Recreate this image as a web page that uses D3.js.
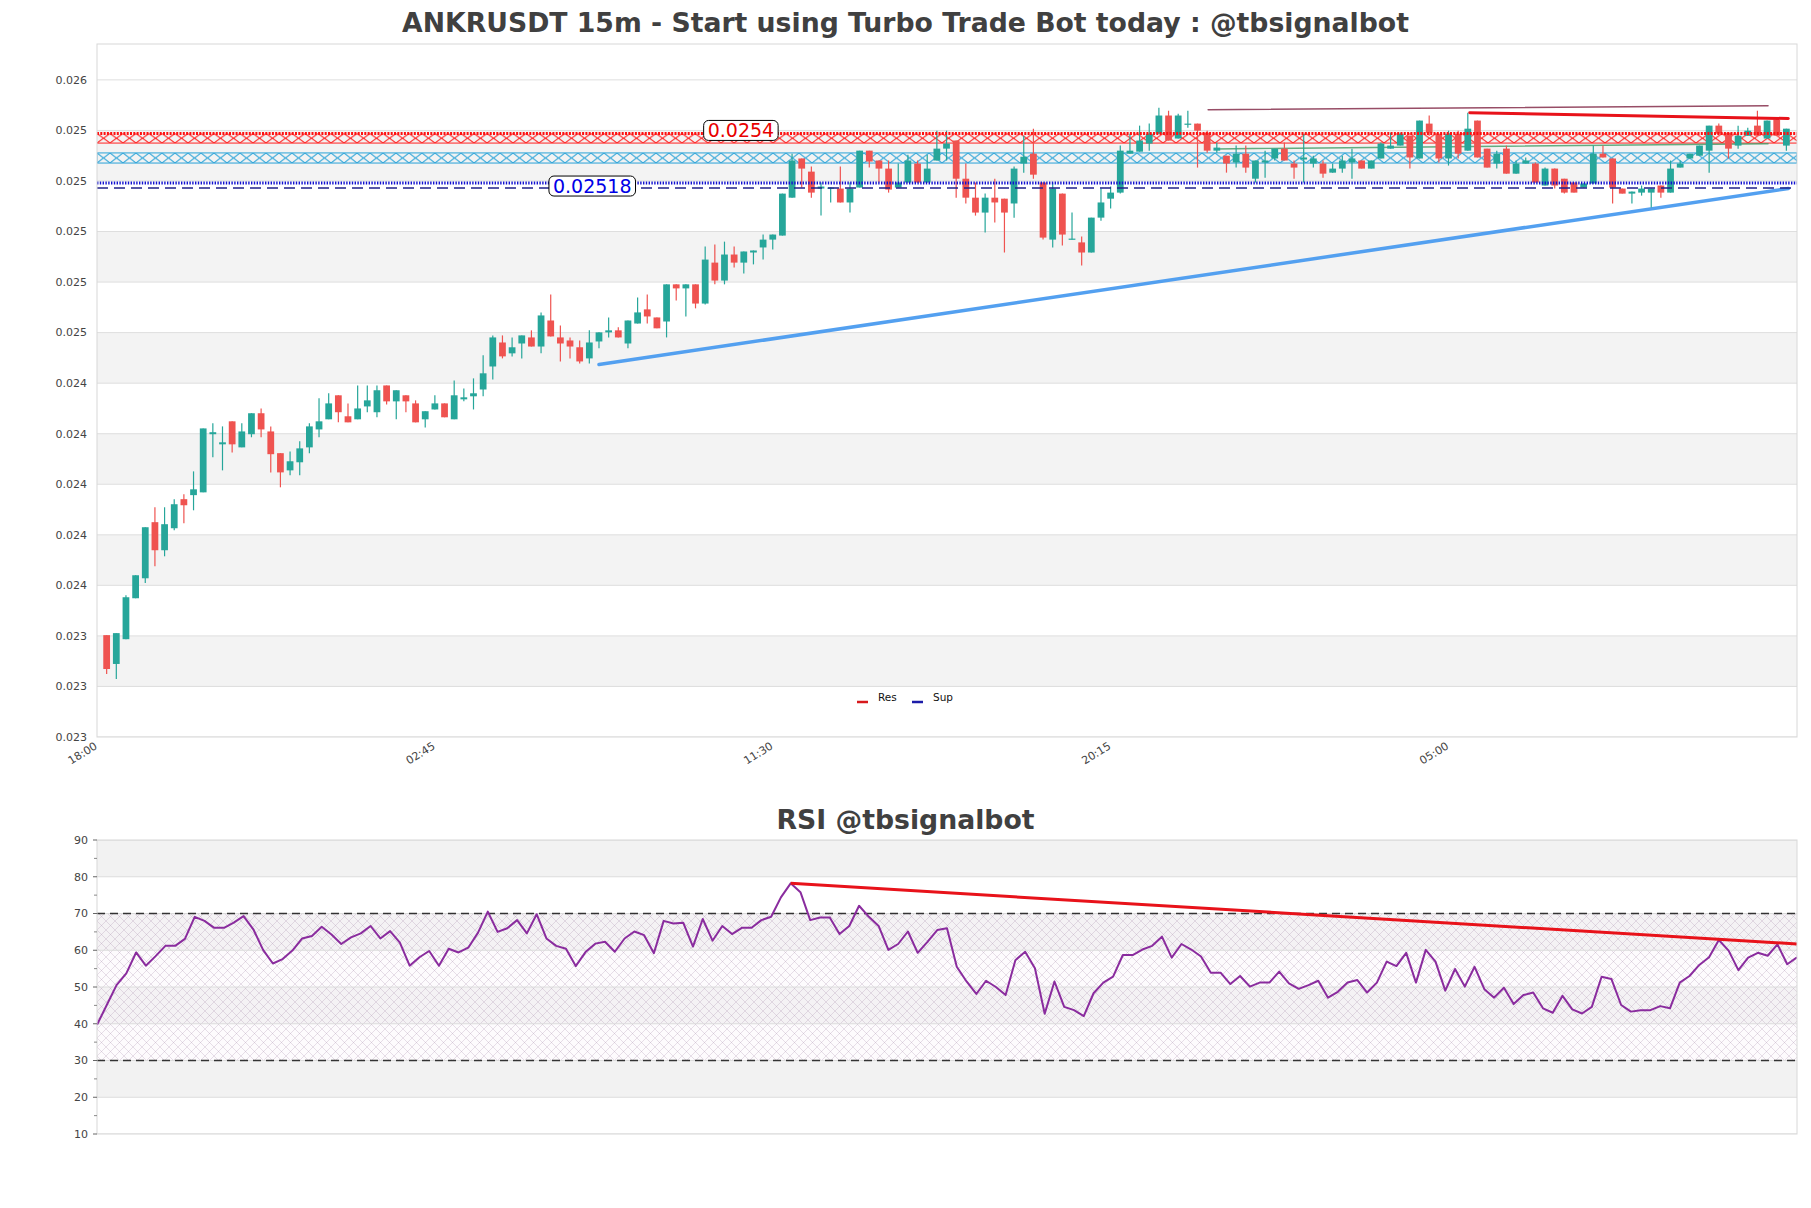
<!DOCTYPE html>
<html>
<head>
<meta charset="utf-8">
<style>
body { margin: 0; background: #fff; }
text { font-family: "DejaVu Sans", sans-serif; }
.axis-label { font-size: 11px; fill: #444; }
.chart-title { font-size: 26.7px; font-weight: bold; fill: #404040; }
.legend text { font-size: 10.5px; fill: #111; }
</style>
</head>
<body>
<svg width="1811" height="1208"></svg>
<script src="https://d3js.org/d3.v7.min.js"></script>
<script>

// ---- data ----
// 15m candles, first candle is 18:15
var candleOpen = [
0.023403,0.023289,0.023387,0.023549,0.023628,0.023850,0.023739,0.023826,0.023941,0.023957,
0.023968,0.024198,0.024158,0.024249,0.024146,0.024198,0.024281,0.024209,0.024123,0.024055,
0.024087,0.024146,0.024217,0.024257,0.024352,0.024269,0.024257,0.024308,0.024285,0.024391,
0.024328,0.024352,0.024320,0.024257,0.024296,0.024320,0.024257,0.024336,0.024348,0.024375,
0.024466,0.024561,0.024518,0.024557,0.024581,0.024545,0.024648,0.024581,0.024569,0.024542,
0.024498,0.024565,0.024601,0.024609,0.024557,0.024636,0.024692,0.024660,0.024644,0.024791,
0.024775,0.024791,0.024715,0.024877,0.024806,0.024909,0.024877,0.024917,0.024937,0.024968,
0.024984,0.025134,0.025289,0.025237,0.025170,0.025170,0.025170,0.025115,0.025174,0.025320,
0.025281,0.025249,0.025174,0.025194,0.025269,0.025194,0.025281,0.025328,0.025360,0.025209,
0.025134,0.025075,0.025134,0.025130,0.025111,0.025269,0.025308,0.025194,0.024968,0.025150,
0.024968,0.024957,0.024917,0.025055,0.025130,0.025154,0.025308,0.025316,0.025348,0.025387,
0.025459,0.025368,0.025423,0.025427,0.025391,0.025320,0.025300,0.025273,0.025308,0.025209,
0.025273,0.025289,0.025328,0.025269,0.025285,0.025269,0.025269,0.025233,0.025249,0.025273,
0.025281,0.025249,0.025289,0.025328,0.025340,0.025379,0.025289,0.025427,0.025387,0.025289,
0.025387,0.025320,0.025439,0.025328,0.025269,0.025328,0.025229,0.025269,0.025269,0.025182,
0.025249,0.025209,0.025194,0.025174,0.025190,0.025308,0.025289,0.025170,0.025150,0.025154,
0.025154,0.025182,0.025154,0.025253,0.025289,0.025300,0.025320,0.025419,0.025391,0.025340,
0.025379,0.025419,0.025368,0.025443,0.025340];

var candleHigh = [
0.023403,0.023411,0.023561,0.023640,0.023830,0.023909,0.023909,0.023941,0.023960,0.024051,
0.024221,0.024241,0.024229,0.024249,0.024241,0.024281,0.024300,0.024229,0.024123,0.024130,
0.024170,0.024241,0.024340,0.024360,0.024352,0.024320,0.024391,0.024391,0.024391,0.024391,
0.024372,0.024352,0.024332,0.024289,0.024352,0.024320,0.024411,0.024379,0.024419,0.024510,
0.024589,0.024589,0.024581,0.024589,0.024609,0.024680,0.024751,0.024628,0.024581,0.024569,
0.024609,0.024601,0.024660,0.024621,0.024648,0.024739,0.024751,0.024660,0.024791,0.024791,
0.024791,0.024791,0.024941,0.024949,0.024960,0.024941,0.024921,0.024925,0.024988,0.024988,
0.025150,0.025308,0.025289,0.025257,0.025194,0.025174,0.025257,0.025194,0.025320,0.025320,
0.025281,0.025281,0.025269,0.025304,0.025281,0.025304,0.025399,0.025399,0.025360,0.025269,
0.025194,0.025150,0.025209,0.025130,0.025257,0.025379,0.025407,0.025194,0.025194,0.025150,
0.025075,0.024980,0.025055,0.025170,0.025178,0.025340,0.025387,0.025419,0.025427,0.025490,
0.025478,0.025466,0.025478,0.025427,0.025399,0.025352,0.025300,0.025340,0.025340,0.025281,
0.025320,0.025328,0.025352,0.025281,0.025387,0.025300,0.025281,0.025269,0.025300,0.025328,
0.025281,0.025281,0.025352,0.025391,0.025391,0.025379,0.025439,0.025459,0.025387,0.025399,
0.025399,0.025470,0.025439,0.025328,0.025320,0.025340,0.025281,0.025293,0.025273,0.025253,
0.025249,0.025209,0.025194,0.025190,0.025340,0.025340,0.025289,0.025170,0.025158,0.025182,
0.025170,0.025182,0.025281,0.025281,0.025308,0.025340,0.025419,0.025427,0.025391,0.025419,
0.025411,0.025478,0.025439,0.025451,0.025407];

var candleLow = [
0.023249,0.023229,0.023387,0.023549,0.023609,0.023676,0.023715,0.023818,0.023846,0.023897,
0.023968,0.024107,0.024055,0.024126,0.024146,0.024186,0.024186,0.024047,0.023988,0.024036,
0.024036,0.024123,0.024186,0.024257,0.024245,0.024245,0.024257,0.024285,0.024265,0.024316,
0.024257,0.024285,0.024245,0.024225,0.024296,0.024265,0.024257,0.024328,0.024296,0.024348,
0.024415,0.024498,0.024506,0.024498,0.024545,0.024518,0.024585,0.024486,0.024498,0.024478,
0.024478,0.024538,0.024581,0.024581,0.024538,0.024636,0.024636,0.024617,0.024581,0.024727,
0.024664,0.024696,0.024711,0.024791,0.024791,0.024858,0.024834,0.024870,0.024889,0.024929,
0.024984,0.025134,0.025174,0.025134,0.025063,0.025115,0.025115,0.025075,0.025174,0.025253,
0.025194,0.025154,0.025174,0.025194,0.025194,0.025194,0.025281,0.025281,0.025134,0.025111,
0.025063,0.024996,0.025036,0.024917,0.025055,0.025233,0.025209,0.024968,0.024937,0.024945,
0.024968,0.024866,0.024917,0.025043,0.025091,0.025150,0.025308,0.025316,0.025320,0.025387,
0.025360,0.025368,0.025411,0.025253,0.025312,0.025312,0.025233,0.025253,0.025233,0.025194,
0.025213,0.025281,0.025281,0.025209,0.025194,0.025253,0.025213,0.025233,0.025233,0.025209,
0.025249,0.025249,0.025289,0.025328,0.025340,0.025249,0.025289,0.025379,0.025273,0.025261,
0.025289,0.025320,0.025293,0.025253,0.025249,0.025229,0.025229,0.025269,0.025194,0.025182,
0.025170,0.025150,0.025154,0.025174,0.025190,0.025293,0.025111,0.025150,0.025111,0.025142,
0.025095,0.025134,0.025154,0.025253,0.025289,0.025300,0.025233,0.025387,0.025289,0.025328,
0.025379,0.025379,0.025368,0.025379,0.025320];

var candleClose = [
0.023269,0.023411,0.023553,0.023640,0.023830,0.023739,0.023842,0.023921,0.023917,0.023980,
0.024221,0.024206,0.024166,0.024158,0.024209,0.024281,0.024217,0.024119,0.024047,0.024091,
0.024142,0.024229,0.024249,0.024320,0.024285,0.024245,0.024300,0.024332,0.024372,0.024328,
0.024372,0.024328,0.024245,0.024289,0.024320,0.024265,0.024352,0.024344,0.024360,0.024439,
0.024581,0.024506,0.024542,0.024589,0.024545,0.024668,0.024585,0.024557,0.024545,0.024486,
0.024561,0.024601,0.024609,0.024581,0.024648,0.024680,0.024664,0.024617,0.024791,0.024775,
0.024791,0.024715,0.024889,0.024806,0.024909,0.024877,0.024921,0.024925,0.024968,0.024988,
0.025150,0.025281,0.025249,0.025154,0.025178,0.025174,0.025115,0.025170,0.025320,0.025277,
0.025249,0.025166,0.025194,0.025281,0.025194,0.025249,0.025328,0.025348,0.025209,0.025134,
0.025075,0.025134,0.025115,0.025075,0.025249,0.025296,0.025225,0.024976,0.025170,0.024988,
0.024972,0.024917,0.025055,0.025115,0.025154,0.025320,0.025320,0.025360,0.025387,0.025459,
0.025360,0.025459,0.025427,0.025399,0.025320,0.025332,0.025269,0.025308,0.025253,0.025281,
0.025281,0.025328,0.025281,0.025253,0.025293,0.025289,0.025229,0.025249,0.025281,0.025289,
0.025249,0.025281,0.025348,0.025340,0.025387,0.025293,0.025439,0.025391,0.025289,0.025387,
0.025308,0.025407,0.025293,0.025253,0.025308,0.025229,0.025269,0.025281,0.025194,0.025249,
0.025182,0.025154,0.025154,0.025190,0.025308,0.025293,0.025174,0.025150,0.025158,0.025170,
0.025170,0.025154,0.025249,0.025269,0.025308,0.025340,0.025419,0.025387,0.025328,0.025379,
0.025399,0.025379,0.025439,0.025379,0.025407];

var rsiValues = [
39.7,45.1,50.5,53.7,59.4,55.8,58.4,61.2,61.2,63.1,
69.1,68.0,66.1,66.1,67.5,69.3,65.7,60.1,56.4,57.6,
59.9,63.2,63.9,66.4,64.3,61.7,63.5,64.6,66.6,63.2,
65.2,62.1,55.8,58.1,59.8,55.8,60.4,59.4,60.7,64.8,
70.5,65.0,66.0,68.2,64.6,69.8,63.2,61.2,60.4,55.7,
59.5,61.8,62.3,59.6,63.2,65.1,64.1,59.2,68.0,67.3,
67.5,61.0,68.5,62.6,66.6,64.4,66.1,66.1,68.2,69.1,
74.4,78.2,75.8,68.2,68.9,68.9,64.4,66.6,72.1,69.1,
66.6,60.1,61.7,65.1,59.3,62.3,65.5,66.0,55.5,51.5,
48.1,51.7,50.0,47.8,57.3,59.6,55.1,42.7,51.5,44.6,
43.7,42.1,48.3,51.2,52.8,58.7,58.7,60.2,61.2,63.7,
58.0,61.7,60.2,58.3,53.9,53.9,50.8,53.0,50.1,51.2,
51.2,54.2,51.0,49.5,50.5,51.7,47.1,48.7,51.2,51.9,
48.5,51.2,56.9,55.7,59.3,51.2,60.1,56.9,49.0,54.9,
50.1,55.5,49.4,47.1,49.8,45.4,47.8,48.5,44.2,43.0,
47.6,43.9,42.8,44.6,52.8,52.2,45.1,43.3,43.7,43.7,
44.8,44.2,51.2,53.0,56.0,58.1,62.8,59.9,54.6,58.0,
59.3,58.5,61.6,56.2,58.1];

var xTickIndex = [0, 35, 70, 105, 140];
var xTickLabels = ["18:00", "02:45", "11:30", "20:15", "05:00"];
var yTicks = [0.0230, 0.0232, 0.0234, 0.0236, 0.0238, 0.0240, 0.0242, 0.0244,
              0.0246, 0.0248, 0.0250, 0.0252, 0.0254, 0.0256];
var rsiTicks = [10, 20, 30, 40, 50, 60, 70, 80, 90];

// levels and zones
var resZone = [0.025350, 0.025388];
var resLevel = 0.025388, resLabel = 0.0254, resLabelAt = 66.7;
var midZone = [0.025271, 0.025311];
var supDotted = 0.025192, supDashed = 0.025172, supLabel = 0.02518, supLabelAt = 51.3;

// trend lines [candle index, price]
var supportTrend = [[52, 0.024474], [175.2, 0.025170]];
var resistTrend = [[142.2, 0.025470], [175.2, 0.025447]];
var upperThin = [[115.1, 0.025482], [173.1, 0.025498]];
var greenThin = [[115.8, 0.025327], [173.1, 0.025347]];
var rsiTrend = [[71, 78.2], [174, 61.7]];

// ---- layout ----
var svg = d3.select("svg"),
  main = {left: 97, right: 1797, top: 44, bottom: 737},
  rsiBox = {left: 97, right: 1797, top: 840, bottom: 1134};

var upColor = "#26a69a", downColor = "#ef5350";

var x = d3.scaleLinear().domain([0, 176.1]).range([main.left, main.right]);
var y = d3.scaleLinear().domain([0.0230, 0.025742]).range([main.bottom, main.top]);
var xr = d3.scaleLinear().domain([0, rsiValues.length - 1]).range([rsiBox.left, rsiBox.right]);
var yr = d3.scaleLinear().domain([10, 90]).range([rsiBox.bottom, rsiBox.top]);

svg.append("rect").attr("width", 1811).attr("height", 1208).attr("fill", "#fff");

var defs = svg.append("defs");
function hatch(id, color, w, h, y0, sw, op) {
  var p = defs.append("pattern")
    .attr("id", id)
    .attr("patternUnits", "userSpaceOnUse")
    .attr("x", main.left).attr("y", y0)
    .attr("width", w).attr("height", h);
  p.append("path")
    .attr("d", "M0,0L" + w + "," + h + "M" + w + ",0L0," + h)
    .attr("stroke", color)
    .attr("stroke-width", sw)
    .attr("stroke-opacity", op)
    .attr("fill", "none");
}
hatch("hatchRed", "#ff2020", 13, y(resZone[0]) - y(resZone[1]), y(resZone[1]), 1, 1);
hatch("hatchCyan", "#2aa3d8", 13, y(midZone[0]) - y(midZone[1]), y(midZone[1]), 1, 1);
hatch("hatchRsi", "#a58aa8", 9, 9, rsiBox.top, 0.6, 0.45);

defs.append("clipPath").attr("id", "clipMain").append("rect")
  .attr("x", main.left).attr("y", main.top)
  .attr("width", main.right - main.left).attr("height", main.bottom - main.top);
defs.append("clipPath").attr("id", "clipRsi").append("rect")
  .attr("x", rsiBox.left).attr("y", rsiBox.top)
  .attr("width", rsiBox.right - rsiBox.left).attr("height", rsiBox.bottom - rsiBox.top);

// ---- titles ----
svg.append("text").attr("class", "chart-title")
  .attr("x", 905.5).attr("y", 32).attr("text-anchor", "middle")
  .text("ANKRUSDT 15m - Start using Turbo Trade Bot today : @tbsignalbot");
svg.append("text").attr("class", "chart-title")
  .attr("x", 905.5).attr("y", 829).attr("text-anchor", "middle")
  .text("RSI @tbsignalbot");

// ================= price panel =================
var plot = svg.append("g").attr("clip-path", "url(#clipMain)");

// alternating bands
plot.selectAll("rect.band")
  .data(d3.pairs(yTicks).filter(function(d, i) { return i % 2 === 1; }))
  .enter().append("rect")
  .attr("class", "band")
  .attr("x", main.left).attr("width", main.right - main.left)
  .attr("y", function(d) { return y(d[1]); })
  .attr("height", function(d) { return y(d[0]) - y(d[1]); })
  .attr("fill", "#f3f3f3");

plot.selectAll("line.grid")
  .data(yTicks)
  .enter().append("line")
  .attr("class", "grid")
  .attr("x1", main.left).attr("x2", main.right)
  .attr("y1", function(d) { return y(d); }).attr("y2", function(d) { return y(d); })
  .attr("stroke", "#dedede").attr("stroke-width", 1);

// resistance zone
plot.append("rect")
  .attr("x", main.left).attr("width", main.right - main.left)
  .attr("y", y(resZone[1])).attr("height", y(resZone[0]) - y(resZone[1]))
  .attr("fill", "url(#hatchRed)");
plot.append("line")
  .attr("x1", main.left).attr("x2", main.right)
  .attr("y1", y(resZone[0])).attr("y2", y(resZone[0]))
  .attr("stroke", "#ff2020").attr("stroke-width", 1);

// middle (cyan) zone
plot.append("rect")
  .attr("x", main.left).attr("width", main.right - main.left)
  .attr("y", y(midZone[1])).attr("height", y(midZone[0]) - y(midZone[1]))
  .attr("fill", "url(#hatchCyan)")
  .attr("stroke", "#2aa3d8").attr("stroke-width", 1);

// thin lines on the right
function seg(g, pts, color, width, op) {
  g.append("line")
    .attr("x1", x(pts[0][0])).attr("y1", y(pts[0][1]))
    .attr("x2", x(pts[1][0])).attr("y2", y(pts[1][1]))
    .attr("stroke", color).attr("stroke-width", width)
    .attr("stroke-opacity", op).attr("stroke-linecap", "round");
}
seg(plot, upperThin, "#8c3a55", 1.5, 0.9);
seg(plot, greenThin, "#3f9a63", 1.5, 0.8);

// support trend
seg(plot, supportTrend, "#4a9bef", 3.5, 0.95);

// candles
var step = x(1) - x(0), bodyW = step * 0.7;
var candles = plot.append("g").selectAll("g")
  .data(candleOpen.map(function(o, i) {
    return {k: i + 1, o: o, h: candleHigh[i], l: candleLow[i], c: candleClose[i]};
  }))
  .enter().append("g");

candles.append("line")
  .attr("x1", function(d) { return x(d.k); }).attr("x2", function(d) { return x(d.k); })
  .attr("y1", function(d) { return y(d.h); }).attr("y2", function(d) { return y(d.l); })
  .attr("stroke", function(d) { return d.c >= d.o ? upColor : downColor; })
  .attr("stroke-width", 1.2);

candles.append("rect")
  .attr("x", function(d) { return x(d.k) - bodyW / 2; })
  .attr("width", bodyW)
  .attr("y", function(d) { return y(Math.max(d.o, d.c)); })
  .attr("height", function(d) { return Math.max(1.2, Math.abs(y(d.o) - y(d.c))); })
  .attr("fill", function(d) { return d.c >= d.o ? upColor : downColor; });

// level lines
plot.append("line")
  .attr("x1", main.left).attr("x2", main.right)
  .attr("y1", y(resLevel)).attr("y2", y(resLevel))
  .attr("stroke", "#ff1010").attr("stroke-width", 3)
  .attr("stroke-dasharray", "2,1.3");
plot.append("line")
  .attr("x1", main.left).attr("x2", main.right)
  .attr("y1", y(supDotted)).attr("y2", y(supDotted))
  .attr("stroke", "#1212d0").attr("stroke-width", 3)
  .attr("stroke-dasharray", "1.4,1.4");
plot.append("line")
  .attr("x1", main.left).attr("x2", main.right)
  .attr("y1", y(supDashed)).attr("y2", y(supDashed))
  .attr("stroke", "#20208a").attr("stroke-width", 1.4)
  .attr("stroke-dasharray", "11,6");

// resistance trend
seg(plot, resistTrend, "#e8121a", 3, 1);

// value labels
function valueLabel(value, at, color) {
  var g = svg.append("g").attr("transform", "translate(" + x(at) + "," + y(value) + ")");
  var t = g.append("text")
    .attr("text-anchor", "middle").attr("dy", "0.37em")
    .attr("font-size", "19px").attr("fill", color)
    .text(String(value));
  var b = t.node().getBBox();
  g.insert("rect", "text")
    .attr("x", b.x - 4).attr("y", -10).attr("width", b.width + 8).attr("height", 20)
    .attr("rx", 5).attr("fill", "#fff").attr("stroke", "#000").attr("stroke-width", 1);
}
valueLabel(resLabel, resLabelAt, "#e80000");
valueLabel(supLabel, supLabelAt, "#0000e6");

// frame
svg.append("rect")
  .attr("x", main.left).attr("y", main.top)
  .attr("width", main.right - main.left).attr("height", main.bottom - main.top)
  .attr("fill", "none").attr("stroke", "#d8d8d8");

// y labels
svg.append("g").selectAll("text")
  .data(yTicks).enter().append("text")
  .attr("class", "axis-label")
  .attr("x", main.left - 10).attr("y", function(d) { return y(d); })
  .attr("dy", "0.35em").attr("text-anchor", "end")
  .text(d3.format(".3f"));

// x labels
svg.append("g").selectAll("text")
  .data(xTickIndex).enter().append("text")
  .attr("class", "axis-label")
  .attr("text-anchor", "end")
  .attr("transform", function(d) { return "translate(" + (x(d) + 1) + "," + (main.bottom + 11) + ") rotate(-32)"; })
  .text(function(d, i) { return xTickLabels[i]; });

// legend
var legend = svg.append("g").attr("class", "legend").attr("transform", "translate(857,702)");
legend.append("line").attr("x1", 0).attr("x2", 11).attr("y1", 0).attr("y2", 0)
  .attr("stroke", "#d7191c").attr("stroke-width", 2.5);
legend.append("text").attr("x", 21).attr("y", 0).attr("dy", "-0.05em").text("Res");
legend.append("line").attr("x1", 55).attr("x2", 66).attr("y1", 0).attr("y2", 0)
  .attr("stroke", "#1c1ca8").attr("stroke-width", 2.5);
legend.append("text").attr("x", 76).attr("y", 0).attr("dy", "-0.05em").text("Sup");

// ================= RSI panel =================
var rp = svg.append("g").attr("clip-path", "url(#clipRsi)");

rp.selectAll("rect.band")
  .data(d3.pairs(rsiTicks).filter(function(d, i) { return i % 2 === 1; }))
  .enter().append("rect")
  .attr("class", "band")
  .attr("x", rsiBox.left).attr("width", rsiBox.right - rsiBox.left)
  .attr("y", function(d) { return yr(d[1]); })
  .attr("height", function(d) { return yr(d[0]) - yr(d[1]); })
  .attr("fill", "#f2f2f2");

rp.append("rect")
  .attr("x", rsiBox.left).attr("width", rsiBox.right - rsiBox.left)
  .attr("y", yr(70)).attr("height", yr(30) - yr(70))
  .attr("fill", "#f9f3f8").attr("fill-opacity", 0.35);
rp.append("rect")
  .attr("x", rsiBox.left).attr("width", rsiBox.right - rsiBox.left)
  .attr("y", yr(70)).attr("height", yr(30) - yr(70))
  .attr("fill", "url(#hatchRsi)");

rp.selectAll("line.grid")
  .data(rsiTicks).enter().append("line")
  .attr("class", "grid")
  .attr("x1", rsiBox.left).attr("x2", rsiBox.right)
  .attr("y1", function(d) { return yr(d); }).attr("y2", function(d) { return yr(d); })
  .attr("stroke", "#dcdcdc");

rp.selectAll("line.ob")
  .data([70, 30]).enter().append("line")
  .attr("class", "ob")
  .attr("x1", rsiBox.left).attr("x2", rsiBox.right)
  .attr("y1", function(d) { return yr(d); }).attr("y2", function(d) { return yr(d); })
  .attr("stroke", "#333").attr("stroke-width", 1.3)
  .attr("stroke-dasharray", "8,5");

rp.append("path")
  .datum(rsiValues)
  .attr("fill", "none")
  .attr("stroke", "#8a2c9e")
  .attr("stroke-width", 2)
  .attr("stroke-linejoin", "round")
  .attr("d", d3.line().x(function(d, i) { return xr(i); }).y(function(d) { return yr(d); }));

rp.append("line")
  .attr("x1", xr(rsiTrend[0][0])).attr("y1", yr(rsiTrend[0][1]))
  .attr("x2", xr(rsiTrend[1][0])).attr("y2", yr(rsiTrend[1][1]))
  .attr("stroke", "#e8121a").attr("stroke-width", 3);

svg.append("rect")
  .attr("x", rsiBox.left).attr("y", rsiBox.top)
  .attr("width", rsiBox.right - rsiBox.left).attr("height", rsiBox.bottom - rsiBox.top)
  .attr("fill", "none").attr("stroke", "#d8d8d8");

var rAxis = svg.append("g");
rAxis.selectAll("text")
  .data(rsiTicks).enter().append("text")
  .attr("class", "axis-label")
  .attr("x", rsiBox.left - 9).attr("y", function(d) { return yr(d); })
  .attr("dy", "0.35em").attr("text-anchor", "end")
  .text(function(d) { return d; });
rAxis.selectAll("line.major")
  .data(rsiTicks).enter().append("line")
  .attr("x1", rsiBox.left - 4).attr("x2", rsiBox.left)
  .attr("y1", function(d) { return yr(d); }).attr("y2", function(d) { return yr(d); })
  .attr("stroke", "#666");
rAxis.selectAll("line.minor")
  .data(d3.pairs(rsiTicks).map(function(d) { return (d[0] + d[1]) / 2; }))
  .enter().append("line")
  .attr("x1", rsiBox.left - 3).attr("x2", rsiBox.left)
  .attr("y1", function(d) { return yr(d); }).attr("y2", function(d) { return yr(d); })
  .attr("stroke", "#888");

</script>
</body>
</html>
